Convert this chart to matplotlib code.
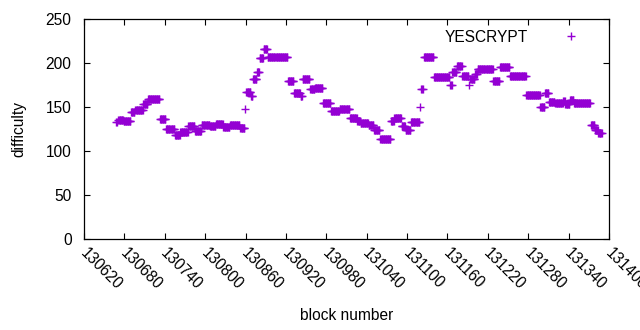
import numpy as np
import matplotlib
matplotlib.use("Agg")
import matplotlib.pyplot as plt
from matplotlib.transforms import ScaledTranslation

# run-length data: block range start, end, difficulty
seg_start = [130668, 130671, 130679, 130690, 130696, 130708, 130715, 130733, 130742, 130755,
             130763, 130775, 130785, 130795, 130807, 130816, 130827, 130837, 130852, 130859,
             130861, 130868, 130871, 130877, 130881, 130887, 130893, 130923, 130932, 130942,
             130945, 130956, 130963, 130975, 130987, 131000, 131015, 131026, 131031, 131043,
             131051, 131060, 131076, 131081, 131092, 131098, 131106, 131119, 131121, 131125,
             131140, 131164, 131167, 131174, 131182, 131192, 131194, 131201, 131205, 131228,
             131238, 131253, 131277, 131298, 131305, 131311, 131320, 131332, 131335, 131342,
             131348, 131373, 131379, 131384]
seg_end = [130670, 130679, 130690, 130696, 130708, 130715, 130733, 130742, 130755, 130763,
           130775, 130785, 130795, 130807, 130816, 130827, 130837, 130852, 130859, 130860,
           130868, 130871, 130877, 130881, 130887, 130893, 130923, 130932, 130942, 130945,
           130956, 130963, 130975, 130987, 131000, 131015, 131026, 131031, 131043, 131051,
           131060, 131076, 131081, 131092, 131098, 131106, 131119, 131120, 131124, 131140,
           131164, 131167, 131174, 131182, 131192, 131193, 131201, 131205, 131228, 131238,
           131253, 131277, 131298, 131305, 131311, 131320, 131332, 131335, 131342, 131348,
           131373, 131379, 131384, 131390]
seg_value = [133, 135, 134, 144, 147, 153, 159, 136, 125, 118,
             122, 128, 123, 130, 128, 131, 127, 129, 126, 148,
             167, 162, 182, 190, 206, 216, 207, 180, 166, 162,
             182, 171, 172, 155, 145, 148, 138, 134, 132, 129,
             124, 114, 134, 137, 128, 124, 133, 150, 170, 207,
             184, 175, 190, 197, 185, 175, 182, 188, 193, 180,
             196, 185, 164, 150, 166, 156, 155, 157, 153, 158,
             155, 129, 124, 120]

x_ticks = [130620, 130680, 130740, 130800, 130860, 130920, 130980, 131040,
           131100, 131160, 131220, 131280, 131340, 131400]
y_ticks = [0, 50, 100, 150, 200, 250]

blocks = np.concatenate([np.arange(s, max(e, s + 1)) for s, e in zip(seg_start, seg_end)])
diff = np.concatenate([np.full(max(e, s + 1) - s, v) for s, e, v in zip(seg_start, seg_end, seg_value)])

plt.rcParams['font.family'] = ['Liberation Sans', 'DejaVu Sans']
fig = plt.figure(figsize=(6.4, 3.3), dpi=100)
ax = fig.add_axes([84 / 640, 1 - 239 / 330, (609 - 84) / 640, (239 - 19) / 330])

color = '#9400D3'
ax.plot(blocks, diff, linestyle='none', marker='+', markersize=6, markeredgewidth=1.0,
        color=color, label='YESCRYPT')

ax.set_xlim(130620, 131400)
ax.set_ylim(0, 250)
ax.set_xticks(x_ticks)
ax.set_yticks(y_ticks)
ax.set_xticklabels([str(t) for t in x_ticks], rotation=-45, ha='left', va='top',
                   rotation_mode='anchor', fontsize=11.2)
ax.set_yticklabels([str(t) for t in y_ticks], fontsize=11.2)
ax.tick_params(direction='in', length=4, width=0.8, top=True, right=True)
ax.tick_params(axis='y', pad=9)
ax.tick_params(axis='x', pad=5)
shift = ScaledTranslation(4 / 100, 0, fig.dpi_scale_trans)
for lbl in ax.get_xticklabels():
    lbl.set_transform(lbl.get_transform() + shift)
for sp in ax.spines.values():
    sp.set_linewidth(0.9)

ax.set_xlabel('block number', fontsize=11.2, labelpad=11)
ax.set_ylabel('difficulty', fontsize=11.2, labelpad=14)

ax.legend(loc='upper right', frameon=False, markerfirst=False, fontsize=11.2,
          handlelength=2.5, handletextpad=1.5, borderaxespad=0.3,
          bbox_to_anchor=(0.985, 1.0))

fig.savefig('out.png', dpi=100)
